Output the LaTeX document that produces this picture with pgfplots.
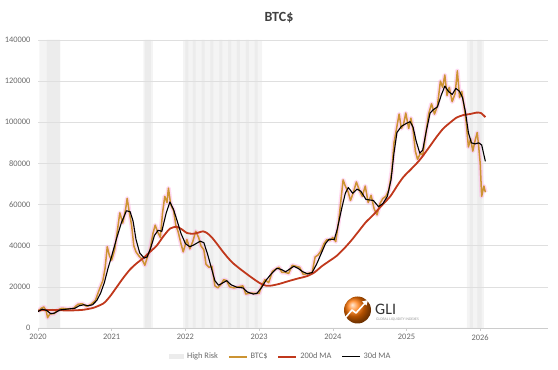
\documentclass[border=0pt]{standalone}
\usepackage{pgfplots}
\pgfplotsset{compat=1.18}
\usepackage{fontspec}
\setmainfont{Carlito}
\usetikzlibrary{shadings}
\definecolor{btc}{RGB}{204,148,50}
\definecolor{ma200}{RGB}{192,56,28}
\definecolor{glow}{RGB}{255,170,225}
\definecolor{band}{RGB}{244,244,244}
\definecolor{bandd}{RGB}{236,236,236}
\definecolor{txt}{RGB}{105,105,105}
\pgfplotsset{
  glowline/.style={glow, opacity=0.45, line width=4.5pt, forget plot, line join=round},
}
\begin{document}
\begin{tikzpicture}[x=1pt,y=1pt]
\begin{axis}[
  at={(38pt,42pt)}, anchor=south west,
  scale only axis, width=510pt, height=288pt,
  set layers,
  xmin=2020, xmax=2026.92, ymin=0, ymax=140000,
  xtick={2020,2021,2022,2023,2024,2025,2026},
  ytick={0,20000,40000,60000,80000,100000,120000,140000},
  scaled y ticks=false,
  /pgf/number format/.cd, fixed, 1000 sep={}, assume math mode=true,
  /pgfplots/.cd,
  axis x line*=bottom, axis y line*=left,
  y axis line style={draw=none},
  x axis line style={draw=gray!40, line width=0.6pt},
  ytick style={draw=none},
  xtick style={draw=gray!40, line width=0.6pt},
  tick align=outside, major tick length=3pt,
  ymajorgrids, grid style={gray!25, line width=0.6pt},
  ticklabel style={font=\fontsize{8.4}{9}\selectfont, text=txt},
  yticklabel style={xshift=-1pt},
  legend style={at={(0.476,-0.1)}, anchor=center, draw=none, fill=none,
    legend columns=-1, font=\fontsize{8.4}{9}\selectfont, text=txt,
    /tikz/every odd column/.append style={column sep=1pt},
    /tikz/every even column/.append style={column sep=8pt}},
  legend image code/.code={\draw[#1] (0pt,0pt) -- (18pt,0pt);},
]
% High risk bands
\addplot[const plot mark left, fill=band, draw=none, on layer=axis background,
  area legend, legend image code/.code={\fill[bandd] (0pt,-2.5pt) rectangle (15pt,2.5pt);}]
 coordinates {(2020,0)(2020.02,140000)(2020.30,0)(2021.43,140000)(2021.56,0)(2021.97,140000)(2023.04,0)(2025.82,140000)(2026.05,0)} \closedcycle;
\addlegendentry{High Risk}
\addplot[const plot mark left, fill=bandd, draw=none, on layer=axis background, forget plot]
 coordinates {(2020,0)(2020.12,140000)(2020.30,0)(2021.45,140000)(2021.53,0)(2022.00,140000)(2022.04,0)(2022.10,140000)(2022.14,0)(2022.22,140000)(2022.26,0)(2022.34,140000)(2022.38,0)(2022.46,140000)(2022.50,0)(2022.58,140000)(2022.62,0)(2022.70,140000)(2022.74,0)(2022.82,140000)(2022.86,0)(2022.94,140000)(2022.98,0)(2025.86,140000)(2025.90,0)(2025.96,140000)(2026.02,0)} \closedcycle;

% BTC price
\pgfplotstableread{
x y
2020.00 8000
2020.04 9500
2020.08 10200
2020.11 8500
2020.13 5000
2020.16 6800
2020.22 7000
2020.27 8800
2020.32 9600
2020.40 9300
2020.48 9500
2020.54 11500
2020.60 11800
2020.66 10500
2020.72 11500
2020.78 13500
2020.83 18500
2020.88 23000
2020.91 29000
2020.94 39500
2020.97 35000
2021.00 33000
2021.04 38000
2021.08 48000
2021.11 56000
2021.15 51000
2021.19 58000
2021.21 63000
2021.24 56000
2021.27 50000
2021.30 40000
2021.33 37000
2021.37 35000
2021.41 33500
2021.45 30500
2021.48 34000
2021.52 38000
2021.56 46000
2021.59 50000
2021.62 47000
2021.66 44000
2021.69 56000
2021.72 64000
2021.75 61000
2021.77 68000
2021.80 60000
2021.84 57000
2021.87 50000
2021.90 47000
2021.94 41000
2021.97 37000
2022.02 43000
2022.06 38500
2022.10 42000
2022.14 47000
2022.18 44000
2022.21 40000
2022.25 38000
2022.28 31000
2022.32 29500
2022.36 30000
2022.40 20500
2022.44 19500
2022.48 21000
2022.52 23500
2022.56 23000
2022.60 20000
2022.66 19500
2022.72 20000
2022.78 20500
2022.82 16500
2022.88 17000
2022.95 16800
2023.00 16800
2023.04 21000
2023.08 23500
2023.13 22000
2023.18 27500
2023.22 28500
2023.27 29500
2023.31 27000
2023.36 27000
2023.40 26500
2023.45 30500
2023.50 30000
2023.55 29500
2023.60 26000
2023.66 26500
2023.72 27000
2023.76 34500
2023.80 35500
2023.84 37500
2023.88 41000
2023.92 43000
2023.96 42500
2024.00 44000
2024.04 42000
2024.08 52000
2024.11 62000
2024.14 72000
2024.17 69000
2024.21 66000
2024.24 62000
2024.28 66000
2024.32 71000
2024.36 67000
2024.40 64000
2024.44 69000
2024.48 61000
2024.52 64500
2024.56 58000
2024.60 55000
2024.64 60500
2024.68 63000
2024.72 64000
2024.76 67000
2024.80 76000
2024.83 90000
2024.87 98000
2024.90 104000
2024.93 97000
2024.96 99000
2024.99 104500
2025.03 97000
2025.06 102000
2025.09 96000
2025.12 86000
2025.15 82000
2025.19 85000
2025.22 84000
2025.26 94000
2025.30 104000
2025.34 109000
2025.38 104000
2025.42 108000
2025.46 120000
2025.49 117000
2025.52 123000
2025.55 113000
2025.58 117000
2025.62 110000
2025.66 114000
2025.69 125000
2025.72 112000
2025.75 115000
2025.78 108000
2025.81 100000
2025.84 88000
2025.87 92000
2025.90 86000
2025.93 91000
2025.96 95000
2025.98 88000
2026.00 80000
2026.02 64000
2026.05 69000
2026.07 66000
}\btcdata
\addplot[glowline] table {\btcdata};
\addplot[btc, line width=1.5pt, line join=round] table {\btcdata};
\addlegendentry{BTC\$}

% 200d MA
\addplot[ma200, line width=1.8pt, smooth, tension=0.4] table {
x y
2020.00 8500
2020.20 8800
2020.40 8500
2020.60 8800
2020.75 9800
2020.89 12000
2020.98 15500
2021.07 20000
2021.16 24500
2021.25 28500
2021.34 31500
2021.43 34000
2021.52 37000
2021.61 40000
2021.70 44500
2021.79 48300
2021.88 49200
2021.95 48000
2022.02 46200
2022.10 45800
2022.17 46300
2022.24 47000
2022.30 46000
2022.36 44000
2022.42 41300
2022.50 37500
2022.58 34000
2022.65 31400
2022.75 28500
2022.88 25000
2023.01 21800
2023.10 20500
2023.18 20700
2023.28 21500
2023.40 22800
2023.52 24000
2023.65 25200
2023.75 27000
2023.85 30000
2023.95 32500
2024.05 35000
2024.15 38500
2024.25 42500
2024.35 47000
2024.45 51500
2024.55 55000
2024.65 59000
2024.78 64000
2024.88 69500
2024.96 73500
2025.07 77500
2025.18 81700
2025.30 87500
2025.41 93000
2025.50 97000
2025.59 99800
2025.68 102300
2025.77 103500
2025.86 104000
2025.95 104700
2026.01 104500
2026.07 102500
};
\addlegendentry{200d MA}

% 30d MA
\addplot[black, line width=1.1pt, line join=round] table {
x y
2020.00 8000
2020.06 9200
2020.12 8500
2020.17 7000
2020.22 7200
2020.30 8800
2020.40 9200
2020.50 9600
2020.56 10800
2020.62 11300
2020.68 10800
2020.74 11300
2020.80 13500
2020.85 17000
2020.90 22000
2020.95 29000
2021.00 35000
2021.07 44000
2021.13 51000
2021.20 57000
2021.25 56500
2021.29 52000
2021.33 43000
2021.38 36500
2021.44 34000
2021.48 34500
2021.53 39000
2021.58 45000
2021.63 47500
2021.68 47000
2021.74 56000
2021.79 61300
2021.84 57500
2021.88 53000
2021.94 46000
2022.00 41000
2022.06 39500
2022.12 40500
2022.20 42200
2022.25 41500
2022.30 36000
2022.35 29500
2022.40 23000
2022.45 20800
2022.50 21800
2022.56 23000
2022.62 21000
2022.70 19800
2022.78 19500
2022.84 17500
2022.92 16500
2022.97 16800
2023.03 19500
2023.10 23500
2023.17 26500
2023.24 29000
2023.30 28500
2023.36 27300
2023.42 28800
2023.47 30000
2023.53 29000
2023.59 27400
2023.66 26300
2023.72 27000
2023.78 31000
2023.84 36000
2023.90 41000
2023.95 43200
2024.02 43000
2024.06 48000
2024.12 58000
2024.17 65500
2024.21 68300
2024.27 65500
2024.33 67500
2024.38 66500
2024.45 62500
2024.55 62000
2024.62 59000
2024.68 60500
2024.74 64000
2024.79 72000
2024.83 85000
2024.87 95000
2024.93 98000
2025.00 99500
2025.05 100300
2025.09 97500
2025.13 91000
2025.18 85000
2025.22 86500
2025.27 96000
2025.32 104500
2025.36 106000
2025.42 107500
2025.47 113000
2025.52 117600
2025.57 115000
2025.62 113500
2025.67 116500
2025.72 115000
2025.76 112000
2025.80 105000
2025.84 95000
2025.88 90000
2025.93 89500
2025.98 90000
2026.02 89000
2026.07 81000
};
\addlegendentry{30d MA}
\end{axis}
% title
\node[font=\fontsize{14}{16}\selectfont\bfseries, text=black!75] at (279,352) {BTC\$};
% logo
\shade[ball color=orange!90!red] (357.5,60) circle (13.5);
\draw[white, line width=1.6pt, line join=round, line cap=round] (346,53) -- (352,60) -- (356,57) -- (366,68);
\fill[white] (368,70) -- (362,68.5) -- (366.5,64.5) -- cycle;
\node[anchor=west, font=\fontsize{16}{17}\selectfont, text=black!80, inner sep=0] at (375,61) {GLI};
\node[anchor=west, font=\fontsize{3.8}{4}\selectfont, text=gray!80, inner sep=0] at (376,50) {GLOBAL LIQUIDITY INDEXES};
\pgfresetboundingbox
\path[use as bounding box] (0,0) rectangle (558,370);
\end{tikzpicture}
\end{document}
